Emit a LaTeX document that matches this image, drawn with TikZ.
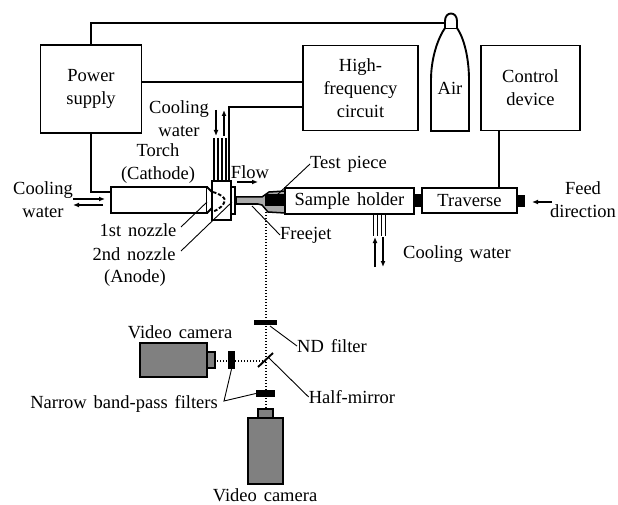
\documentclass[tikz,border=0pt]{standalone}
\usepackage{fontspec}
\setmainfont[WordSpace=1.5]{Liberation Serif}
\usetikzlibrary{positioning,arrows.meta}
\tikzstyle{figure} = [x = 1pt, y = -1pt, every node/.style={font=\fontsize{18.5}{23}\selectfont, inner sep=0pt}]
\definecolor{cameraGray}{RGB}{128,128,128}
\definecolor{jetGray}{RGB}{170,170,170}
\tikzstyle{blockBox} = [draw=black, fill=white, line width=1.9pt, align=center]
\tikzstyle{cameraBox} = [draw=black, fill=cameraGray, line width=1.9pt]
\tikzstyle{filterBox} = [fill=black]
\tikzstyle{wire} = [color=black, line width=1.5pt]
\tikzstyle{leader} = [color=black, line width=.9pt]
\tikzstyle{pipe} = [color=black, line width=1.3pt]
\tikzstyle{thinPipe} = [color=black, line width=.9pt]
\tikzstyle{flowArrow} = [color=black, line width=1.2pt, -{Latex[length=6pt,width=5pt]}]
\tikzstyle{opticalPath} = [color=black, line width=1.3pt, dash pattern=on 1.3pt off 1.7pt]
\tikzstyle{labelText} = [align=center]
\newcommand{\pipeSet}[4]{
  \foreach \xPipe in {#2} {
    \draw [#1] (\xPipe, #3) -- (\xPipe, #4);
  }
}
\begin{document}
\begin{tikzpicture}[figure]
  \useasboundingbox (0,0) rectangle (618,505);

  % optical axis
  \coordinate (jetAxis) at (266,212);
  \coordinate (mirrorCentre) at (266,361);
  \coordinate (lensTop) at (266,409);
  \coordinate (lensSide) at (215,361);
  \draw [opticalPath] (jetAxis) -- (lensTop);
  \draw [opticalPath] (mirrorCentre) -- (lensSide);

  % control blocks
  \node [blockBox, minimum width=101, minimum height=88] (powerSupply) at (91,89) {Power\\supply};
  \node [blockBox, minimum width=115, minimum height=85] (highFrequency) at (360.5,88) {High-\\frequency\\circuit};
  \node [blockBox, minimum width=99, minimum height=85] (controlDevice) at (530.5,88) {Control\\device};

  % air bottle
  \draw [blockBox] (431,131) -- (431,80) .. controls (431,58) and (438,38) .. (445,28)
    -- (457,28) .. controls (464,38) and (469,58) .. (469,80) -- (469,131) -- cycle;
  \draw [blockBox] (445,28) -- (445,21) .. controls (445,11) and (457,11) .. (457,21) -- (457,28);
  \node [labelText] (airLabel) at (450,88) {Air};

  % torch
  \node [blockBox, minimum width=96, minimum height=26] (torchBody) at (159,200) {};
  \draw [blockBox] (207,187) -- (213,193) -- (213,207) -- (207,213);
  \node [blockBox, minimum width=4, minimum height=27] (anodeCap) at (233,200.5) {};
  \node [blockBox, minimum width=19, minimum height=39] (nozzleBox) at (221.5,200.5) {};
  \draw [line width=1.9pt, dash pattern=on 3.5pt off 2pt] (213,192) .. controls (220,194) and (224,197) .. (225,200)
    .. controls (224,205) and (220,209) .. (212,212);

  % jet and test piece
  \draw [wire, fill=jetGray] (285,191) -- (269,192) -- (262,197) -- (236,197) -- (236,204)
    -- (258,204) -- (262,205) -- (268,212) -- (285,213) -- cycle;
  \node [filterBox, minimum width=20, minimum height=12] (testPiece) at (275,200) {};

  % holder and traverse
  \node [blockBox, minimum width=129, minimum height=26] (sampleHolder) at (349.5,201) {Sample holder};
  \node [filterBox, minimum width=8, minimum height=13] (holderJoint) at (418,200.5) {};
  \node [blockBox, minimum width=95, minimum height=25] (traverse) at (469.5,200.5) {Traverse};
  \node [filterBox, minimum width=8, minimum height=12] (traverseEnd) at (521,201) {};

  % wiring
  \coordinate (airNeck) at (445,23);
  \coordinate (torchInlet) at (111,192);
  \coordinate (hfLower) at (303,107);
  \coordinate (hfUpper) at (303,82);
  \coordinate (powerRight) at (142,82);
  \coordinate (torchWire) at (229,181);
  \coordinate (traverseTop) at (499,188);
  \draw [wire] (powerSupply.north) |- (airNeck);
  \draw [wire] (powerSupply.south) |- (torchInlet);
  \draw [wire] (powerRight) -- (hfUpper);
  \draw [wire] (hfLower) -| (torchWire);
  \draw [wire] (traverseTop) -- (traverseTop |- controlDevice.south);

  % cooling pipes
  \pipeSet{pipe}{214,218,222,226}{138}{181}
  \pipeSet{thinPipe}{373,377,381,385}{214}{236}

  % arrows
  \draw [flowArrow] (216,110) -- (216,136);
  \draw [flowArrow] (224,136) -- (224,110);
  \draw [flowArrow] (73,199) -- (105,199);
  \draw [flowArrow] (103,205) -- (73,205);
  \draw [flowArrow] (237,182) -- (258,182);
  \draw [flowArrow] (375,267) -- (375,237);
  \draw [flowArrow] (383,237) -- (383,267);
  \draw [flowArrow] (552,202) -- (532,202);

  % optics
  \node [filterBox, minimum width=23, minimum height=5] (ndFilter) at (265.5,322.5) {};
  \node [filterBox, minimum width=19, minimum height=7] (lowerFilter) at (265.5,393.5) {};
  \node [filterBox, minimum width=7, minimum height=18] (sideFilter) at (231.5,360) {};
  \draw [line width=1.9pt] (258,367) -- (273,353);
  \node [cameraBox, minimum width=8, minimum height=16] (sideLens) at (211,360) {};
  \node [cameraBox, minimum width=67, minimum height=34] (sideCamera) at (173.5,360) {};
  \node [cameraBox, minimum width=15, minimum height=9] (lowerLens) at (265.5,413.5) {};
  \node [cameraBox, minimum width=35, minimum height=66] (lowerCamera) at (265.5,451) {};

  % labels
  \node [labelText] (coolingTop) at (179,118.5) {Cooling\\water};
  \node [labelText] (torchLabel) at (158,163.5) {Torch\\(Cathode)};
  \node [labelText] (flowLabel) at (250,172) {Flow};
  \node [labelText] (coolingLeft) at (43,199.5) {Cooling\\water};
  \node [labelText] (firstNozzle) at (138,230) {1st nozzle};
  \node [labelText] (secondNozzle) at (134,254) {2nd nozzle};
  \node [labelText] (anodeLabel) at (135,278) {(Anode)};
  \node [labelText, anchor=west] (testLabel) at (310,164) {Test piece};
  \node [labelText, anchor=west] (freejetLabel) at (280,235) {Freejet};
  \node [labelText] (coolingRight) at (457,254) {Cooling water};
  \node [labelText] (feedLabel) at (583,200) {Feed\\direction};
  \node [labelText] (sideCameraLabel) at (180,332) {Video camera};
  \node [labelText] (ndLabel) at (332,346) {ND filter};
  \node [labelText] (mirrorLabel) at (352,397) {Half-mirror};
  \node [labelText, anchor=east] (bandPassLabel) at (218,404) {Narrow band-pass filters};
  \node [labelText] (lowerCameraLabel) at (265,495) {Video camera};

  % leader lines
  \coordinate (firstTip) at (207,202);
  \coordinate (secondTip) at (232,202);
  \coordinate (firstEnd) at (181,227);
  \coordinate (secondEnd) at (181,251);
  \coordinate (jetTip) at (252,206);
  \coordinate (pieceTip) at (277,195);
  \coordinate (ndTip) at (270,326);
  \coordinate (mirrorTip) at (268,357);
  \coordinate (bandPassFork) at (224,401);
  \draw [leader] (firstEnd) -- (firstTip);
  \draw [leader] (secondEnd) -- (secondTip);
  \draw [leader] (jetTip) -- (freejetLabel.west);
  \draw [leader] (pieceTip) -- (testLabel.west);
  \draw [leader] (ndTip) -- (ndLabel.west);
  \draw [leader] (mirrorTip) -- (mirrorLabel.west);
  \draw [leader] (sideFilter.south) -- (bandPassFork) -- (lowerFilter.west);
\end{tikzpicture}
\end{document}
